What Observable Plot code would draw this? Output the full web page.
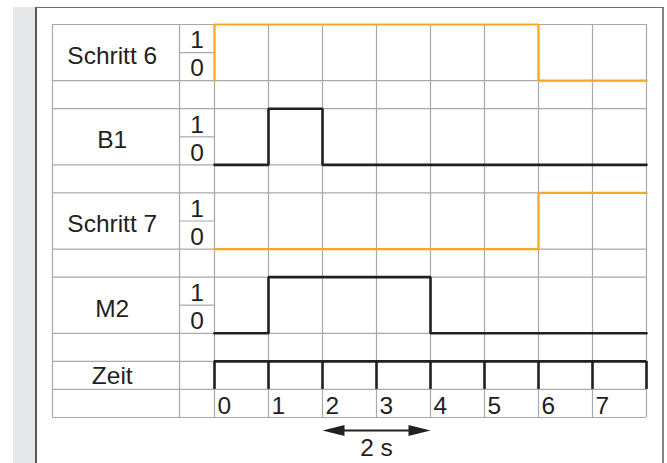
<!DOCTYPE html>
<html><head><meta charset="utf-8">
<script src="https://cdn.jsdelivr.net/npm/d3@7"></script>
<script src="https://cdn.jsdelivr.net/npm/@observablehq/plot@0.6"></script>
<style>
body{margin:0;background:#fff;}
#wrap{position:relative;width:667px;height:463px;overflow:hidden;}
#strip{position:absolute;left:13px;top:7px;width:23px;height:456px;background:#e6e7e8;}
#box{position:absolute;left:35px;top:7px;width:629px;height:470px;border-left:2px solid #58595b;border-top:1.5px solid #6d6e71;border-right:2px solid #808285;box-sizing:border-box;background:#fff;}
#chart{position:absolute;left:0;top:0;}
</style></head>
<body><div id="wrap"><div id="strip"></div><div id="box"></div><div id="chart"></div></div>
<script>
// ---- data ----
const signalNames = ["Schritt 6", "B1", "Schritt 7", "M2"];
const schritt6 = [1, 1, 1, 1, 1, 1, 0, 0];
const b1       = [0, 1, 0, 0, 0, 0, 0, 0];
const schritt7 = [0, 0, 0, 0, 0, 0, 1, 1];
const m2       = [0, 1, 1, 1, 0, 0, 0, 0];
const signalStates = [schritt6, b1, schritt7, m2];
const levelLabels = ["1", "0"];
const clockLabel = "Zeit";
const timeTicks = [0, 1, 2, 3, 4, 5, 6, 7, 8];
const tickLabels = ["0", "1", "2", "3", "4", "5", "6", "7"];
const spanStart = 2, spanEnd = 4;
const spanLabel = "2 s";

// ---- style / layout ----
const ORANGE = "#f7a823", BLACK = "#231f20", GRID = "#a7a9ac";
const signalColors = [ORANGE, BLACK, ORANGE, BLACK];
const T_END = 8, LABEL_LEFT = -3, LEVEL_LEFT = -0.648;
const ROWS = 14, CLOCK_ROW = 12;
const FONT = 24.5;

function stepPoints(states, i) {
  const top = 3 * i, bottom = 3 * i + 2;
  const yOf = v => v ? top : bottom;
  const pts = [{t: 0, y: yOf(0)}];
  states.forEach((v, t) => pts.push({t, y: yOf(v)}));
  pts.push({t: T_END, y: yOf(states[states.length - 1])});
  return pts;
}

const fullRows = [0, 2, 3, 5, 6, 8, 9, 11, 12, 13, 14];
const halfRows = signalNames.map((d, i) => 3 * i + 1);
const vLines = [LABEL_LEFT, LEVEL_LEFT, ...timeTicks];
const levelCenter = (LEVEL_LEFT + 0) / 2;
const labelCenter = (LABEL_LEFT + LEVEL_LEFT) / 2 - 0.07;

const levelData = [];
signalNames.forEach((d, i) => levelLabels.forEach((l, j) => levelData.push({y: 3 * i + 0.5 + j, text: l})));

const headRight = {draw(ctx) { ctx.moveTo(0, 0); ctx.lineTo(-22, -5.5); ctx.lineTo(-22, 5.5); ctx.closePath(); }};
const headLeft  = {draw(ctx) { ctx.moveTo(0, 0); ctx.lineTo(22, -5.5); ctx.lineTo(22, 5.5); ctx.closePath(); }};
const ARROW_Y = 14.46;

const marks = [
  Plot.ruleY(fullRows, {x1: LABEL_LEFT, x2: T_END, stroke: GRID, strokeWidth: 1.2}),
  Plot.ruleY(halfRows, {x1: LEVEL_LEFT, x2: 0, stroke: GRID, strokeWidth: 1.2}),
  Plot.ruleX(vLines, {y1: 0, y2: ROWS, stroke: GRID, strokeWidth: 1.2}),
  Plot.ruleY([CLOCK_ROW], {x1: 0, x2: T_END, stroke: BLACK, strokeWidth: 2.6}),
  Plot.ruleX(timeTicks, {y1: CLOCK_ROW, y2: CLOCK_ROW + 1, stroke: BLACK, strokeWidth: 2.6}),
  ...signalStates.map((s, i) => Plot.line(stepPoints(s, i), {
    x: "t", y: "y", curve: "step-after", stroke: signalColors[i],
    strokeWidth: signalColors[i] === ORANGE ? 2.2 : 2.6, strokeLinejoin: "miter"
  })),
  Plot.text(signalNames, {x: labelCenter, y: (d, i) => 3 * i + 1, text: d => d, fontSize: FONT, dy: 3.5, fill: BLACK}),
  Plot.text([clockLabel], {x: labelCenter, y: CLOCK_ROW + 0.5, text: d => d, fontSize: FONT, dy: 0.5, fill: BLACK}),
  Plot.text(levelData, {x: levelCenter, y: "y", text: "text", fontSize: FONT, dy: 2, fill: BLACK}),
  Plot.text(tickLabels, {x: (d, i) => timeTicks[i], y: CLOCK_ROW + 1.5, text: d => d, fontSize: FONT, textAnchor: "start", dx: 3, dy: 3, fill: BLACK}),
  Plot.ruleY([ARROW_Y], {x1: spanStart + 0.2, x2: spanEnd - 0.2, stroke: BLACK, strokeWidth: 2}),
  Plot.dot([spanEnd], {x: d => d, y: ARROW_Y, symbol: headRight, fill: BLACK, stroke: null}),
  Plot.dot([spanStart], {x: d => d, y: ARROW_Y, symbol: headLeft, fill: BLACK, stroke: null}),
  Plot.text([spanLabel], {x: (spanStart + spanEnd) / 2, y: ARROW_Y + 0.64, text: d => d, fontSize: FONT, fill: BLACK})
];

const chart = Plot.plot({
  width: 667, height: 463,
  marginLeft: 52, marginRight: 21, marginTop: 24, marginBottom: 46,
  x: {domain: [LABEL_LEFT, T_END], range: [52, 646], axis: null},
  y: {domain: [0, ROWS], range: [24, 417], axis: null},
  style: {background: "transparent", fontFamily: "Liberation Sans, Arial, sans-serif", overflow: "visible"},
  marks
});
document.getElementById("chart").appendChild(chart);
</script>
</body></html>
